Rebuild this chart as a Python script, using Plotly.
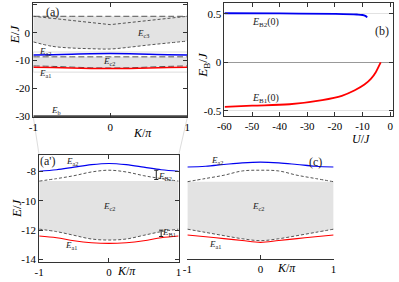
import plotly.graph_objects as go

W, H = 399, 282
def px(x): return x / W
def py(y): return 1 - y / H

# ---------------- data ----------------
K = [-1, -0.75, -0.5, -0.25, 0, 0.25, 0.5, 0.75, 1]

# panel (a) extra
c3_top = [5.9, 5.9, 5.9, 5.9, 5.9, 5.9, 5.9, 5.9, 5.9]
c3_vK = [-1, 0, 1]
c3_v = [5.9, 2.9, 5.9]
c3_bottom = [-3.3, -4.9, -5.5, -5.75, -5.85, -5.2, -4.4, -3.7, -3.0]
eb_K = [-1, 1]
eb = [-30, -30]

# panel (a') : E_c2 region and bound states
ap_ea2 = [-8.0, -7.9, -7.72, -7.55, -7.47, -7.55, -7.72, -7.9, -8.0]
ap_c2_upper = [-8.67, -8.5, -8.3, -8.05, -7.93, -8.05, -8.3, -8.5, -8.67]
ap_c2_top = [-8.67, -8.67, -8.67, -8.67, -8.67, -8.67, -8.67, -8.67, -8.67]
ap_c2_bottom = [-11.93, -12.1, -12.35, -12.6, -12.67, -12.6, -12.35, -12.1, -11.93]
ap_ea1 = [-12.4, -12.52, -12.72, -12.85, -12.9, -12.85, -12.72, -12.52, -12.4]

# panel (c)
c_ea2 = [-7.71, -7.66, -7.54, -7.43, -7.38, -7.43, -7.54, -7.66, -7.71]
c_c2_upper = [-8.71, -8.49, -8.27, -7.98, -7.93, -7.98, -8.27, -8.49, -8.71]
c_c2_top = [-8.71, -8.71, -8.71, -8.71, -8.71, -8.71, -8.71, -8.71, -8.71]
c_c2_bottom = [-11.93, -12.15, -12.37, -12.58, -12.71, -12.58, -12.37, -12.15, -11.93]
c_ea1 = [-12.33, -12.45, -12.57, -12.7, -12.83, -12.7, -12.57, -12.45, -12.33]

# panel (b)
U_b1 = [-59.9, -50, -36.4, -24.6, -17.5, -12.8, -9.3, -6.9, -5.2, -4.0, -3.4]
E_b1 = [-0.458, -0.446, -0.431, -0.388, -0.344, -0.287, -0.229, -0.168, -0.101, -0.034, 0.0]
U_b2 = [-60, -40, -20, -12, -10, -9, -8.3]
E_b2 = [0.505, 0.503, 0.498, 0.492, 0.487, 0.478, 0.463]

# ticks
ka_ticks = [-1, 0, 1]
ka_text = ['-1', '0', '1']
ea_ticks = [10, 0, -10, -20, -30]
ea_text = ['10', '0', '-10', '-20', '-30']
ub_ticks = [-60, -50, -40, -30, -20, -10, 0]
ub_text = ['-60', '-50', '-40', '-30', '-20', '-10', '0']
eb_ticks = [0.5, 0, -0.5]
eb_text = ['0.5', '0', '-0.5']
eap_ticks = [-8, -10, -12, -14]
eap_text = ['-8', '-10', '-12', '-14']

GRAY_FILL = '#e3e3e3'
DASH_C = '#555555'
BLUE = '#0000f0'
RED = '#ff0000'
FONT = 'Liberation Serif'

fig = go.Figure()

def band(xa, ya, bottom, top):
    fig.add_trace(go.Scatter(x=K, y=bottom, mode='lines', line=dict(width=0, shape='spline'),
                             xaxis=xa, yaxis=ya, showlegend=False, hoverinfo='skip'))
    fig.add_trace(go.Scatter(x=K, y=top, mode='lines', line=dict(width=0, shape='spline'),
                             fill='tonexty', fillcolor=GRAY_FILL,
                             xaxis=xa, yaxis=ya, showlegend=False, hoverinfo='skip'))

def dline(xa, ya, x, y, color=DASH_C, width=1, dash='3px,2px', shape='spline'):
    fig.add_trace(go.Scatter(x=x, y=y, mode='lines',
                             line=dict(color=color, width=width, dash=dash, shape=shape),
                             xaxis=xa, yaxis=ya, showlegend=False, hoverinfo='skip'))

# ----- panel (a) -----
band('x', 'y', c3_bottom, c3_top)
band('x', 'y', ap_c2_bottom, ap_c2_top)
dline('x', 'y', K, c3_top, dash='6px,3px')
dline('x', 'y', c3_vK, c3_v, shape='linear')
dline('x', 'y', K, c3_bottom)
dline('x', 'y', K, ap_c2_top, dash='6px,3px')
dline('x', 'y', K, ap_c2_bottom, dash='6px,3px')
dline('x', 'y', K, ap_ea2, color=BLUE, width=1.5, dash='solid')
dline('x', 'y', K, ap_ea1, color=RED, width=1.5, dash='solid')
dline('x', 'y', eb_K, eb, color='#444', width=2, dash='solid', shape='linear')

# ----- panel (b) -----
dline('x2', 'y2', U_b2, E_b2, color=BLUE, width=1.8, dash='solid')
dline('x2', 'y2', U_b1, E_b1, color=RED, width=1.8, dash='solid')

# ----- panel (a') -----
band('x3', 'y3', ap_c2_bottom, ap_c2_top)
dline('x3', 'y3', K, ap_c2_upper)
dline('x3', 'y3', K, ap_c2_bottom)
dline('x3', 'y3', K, ap_ea2, color=BLUE, width=1.1, dash='solid')
dline('x3', 'y3', K, ap_ea1, color=RED, width=1.1, dash='solid')

# ----- panel (c) -----
band('x4', 'y4', c_c2_bottom, c_c2_top)
dline('x4', 'y4', K, c_c2_upper)
dline('x4', 'y4', K, c_c2_bottom)
dline('x4', 'y4', K, c_ea2, color=BLUE, width=1.1, dash='solid')
dline('x4', 'y4', K, c_ea1, color=RED, width=1.1, dash='solid')

axcommon = dict(showline=True, linecolor='#333', linewidth=1, mirror='ticks', ticks='inside',
                ticklen=4, tickcolor='#333', showgrid=False, zeroline=False,
                tickfont=dict(family=FONT, size=11, color='black'))

fig.update_layout(
    width=W, height=H, autosize=False,
    margin=dict(l=0, r=0, t=0, b=0),
    paper_bgcolor='white', plot_bgcolor='white',
    showlegend=False,
    xaxis=dict(domain=[px(27), px(185)], range=[-1, 1], anchor='y',
               tickvals=ka_ticks, ticktext=ka_text, **axcommon),
    yaxis=dict(domain=[py(119.3), py(2.7)], range=[-30.35, 10.8], anchor='x',
               tickvals=ea_ticks, ticktext=ea_text, **axcommon),
    xaxis2=dict(domain=[px(223), px(396)], range=[-60, 1.06], anchor='y2',
                tickvals=ub_ticks, ticktext=ub_text, **axcommon),
    yaxis2=dict(domain=[py(118.3), py(2.7)], range=[-0.554, 0.614], anchor='x2',
                tickvals=eb_ticks, ticktext=eb_text,
                **{k: v for k, v in axcommon.items() if k not in ('showgrid', 'zeroline')},
                showgrid=True, gridcolor='#e2e2e2', zeroline=True, zerolinecolor='#999', zerolinewidth=1),
    xaxis3=dict(domain=[px(33), px(176)], range=[-1, 1], anchor='y3',
                tickvals=ka_ticks, ticktext=ka_text, **axcommon),
    yaxis3=dict(domain=[py(266.7), py(158.3)], range=[-14.16, -6.93], anchor='x3',
                tickvals=eap_ticks, ticktext=eap_text, **axcommon),
    xaxis4=dict(domain=[px(185), px(335)], range=[-1, 1], anchor='y4',
                tickvals=ka_ticks, ticktext=ka_text,
                **{k: v for k, v in axcommon.items() if k != 'mirror'}, mirror=False),
    yaxis4=dict(domain=[py(263.3), py(158.3)], range=[-13.93, -6.93], anchor='x4', visible=False),
)

# zoom rectangle & connectors
fig.add_shape(type='rect', xref='x', yref='y', x0=-1, x1=1, y0=-14.16, y1=-6.93,
              line=dict(color='#dddddd', width=1), layer='below')
for (x0, y0, x1, y1) in [(27, 119.3, 33, 158.3), (185, 119.3, 176, 158.3)]:
    fig.add_shape(type='line', xref='paper', yref='paper', x0=px(x0), y0=py(y0), x1=px(x1), y1=py(y1),
                  line=dict(color='#dddddd', width=1), layer='below')

# E_B markers in (a')
for (kx, ylo, yhi) in [(0.68, -8.56, -7.93), (0.75, -12.43, -12.0)]:
    fig.add_shape(type='line', xref='x3', yref='y3', x0=kx, x1=kx, y0=ylo, y1=yhi,
                  line=dict(color='#222', width=1))
    for yy in (ylo, yhi):
        fig.add_shape(type='line', xref='x3', yref='y3', x0=kx - 0.03, x1=kx + 0.03, y0=yy, y1=yy,
                      line=dict(color='#222', width=1))

def note(text, x, y, size=9, angle=0, color='#222'):
    fig.add_annotation(text=text, x=px(x), y=py(y), xref='paper', yref='paper', showarrow=False,
                       xanchor='center', yanchor='middle', textangle=angle,
                       font=dict(family=FONT, size=size, color=color))

E = '<i>E</i>'
# panel (a)
note('(a)', 47, 12, size=12)
note(E + '<sub>c3</sub>', 140, 34)
note(E + '<sub>a2</sub>', 39, 52)
note(E + '<sub>c2</sub>', 105, 63)
note(E + '<sub>a1</sub>', 39, 75)
note(E + '<sub>b</sub>', 50, 112)
note('<i>E</i>/<i>J</i>', 8, 35, size=13, angle=-90, color='black')
note('<i>K</i>/<i>π</i>', 139, 135, size=12, color='black')
# panel (b)
note('(b)', 385, 32, size=12)
note(E + '<sub>B2</sub>(0)', 265, 23, size=10)
note(E + '<sub>B1</sub>(0)', 265, 100, size=10)
note(E + '<sub>B</sub>/<i>J</i>', 202, 66, size=13, angle=-90, color='black')
note('<i>U</i>/<i>J</i>', 363, 142, size=12, color='black')
# panel (a')
note("(a')", 42, 164, size=12)
note(E + '<sub>a2</sub>', 67, 164)
note(E + '<sub>c2</sub>', 105, 210)
note(E + '<sub>a1</sub>', 66, 250)
note(E + '<sub>B2</sub>', 162, 180)
note(E + '<sub>B1</sub>', 166, 237)
note('<i>E</i>/<i>J</i>', 9, 212, size=13, angle=-90, color='black')
note('<i>K</i>/<i>π</i>', 123, 276, size=12, color='black')
# panel (c)
note('(c)', 316, 165, size=12)
note(E + '<sub>a2</sub>', 215, 163)
note(E + '<sub>c2</sub>', 257, 210)
note(E + '<sub>a1</sub>', 213, 249)
note('<i>K</i>/<i>π</i>', 287, 273, size=12, color='black')

fig.write_html('out.html', config={'displayModeBar': False},
               post_script="document.body.style.margin='0';document.body.style.padding='0';")
